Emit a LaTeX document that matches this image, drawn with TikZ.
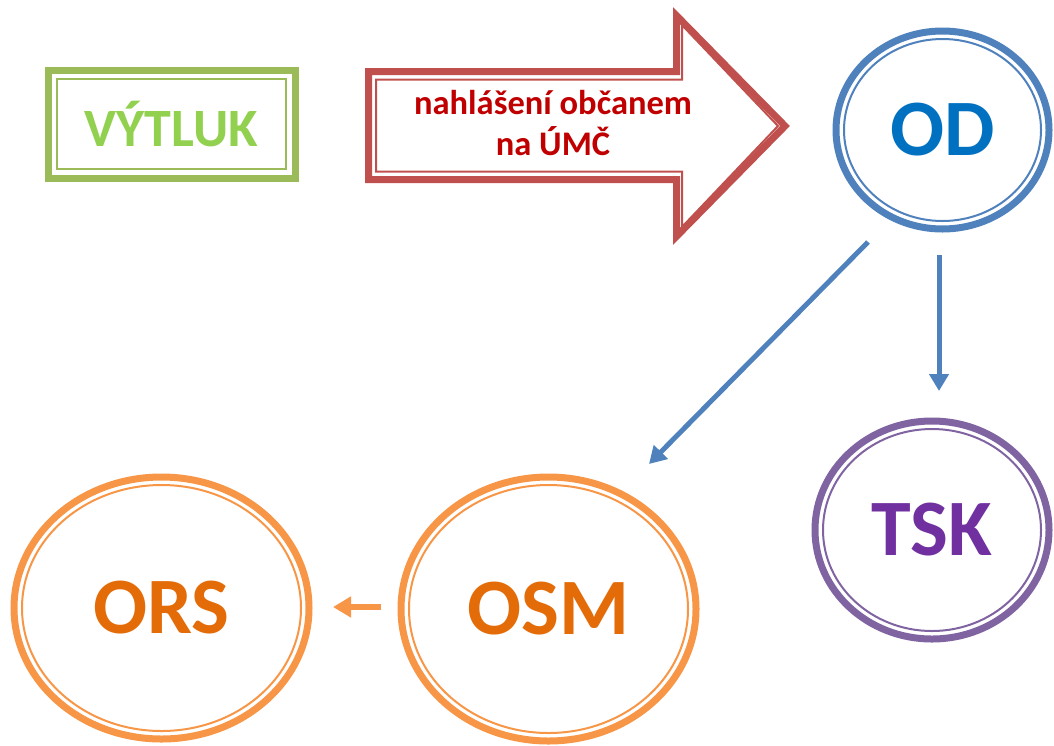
\documentclass[tikz,border=0pt]{standalone}
\usepackage{fontspec}
\setmainfont{Carlito}
\usepackage{tikz}
\usetikzlibrary{shapes,arrows.meta,calc}

\definecolor{vgreen}{HTML}{9BBB59}
\definecolor{vgreentext}{HTML}{92D050}
\definecolor{vred}{HTML}{C0504D}
\definecolor{vredtext}{HTML}{C00000}
\definecolor{vblue}{HTML}{4F81BD}
\definecolor{vbluetext}{HTML}{0070C0}
\definecolor{vpurple}{HTML}{8064A2}
\definecolor{vpurpletext}{HTML}{7030A0}
\definecolor{vorange}{HTML}{F79646}
\definecolor{vorangetext}{HTML}{E36C09}

\begin{document}
\begin{tikzpicture}[x=1pt,y=-1pt,
    ring/.style={ellipse,draw=#1,line width=7pt,inner sep=0pt,outer sep=0pt},
    bigtext/.style={font=\bfseries\fontsize{80}{90}\selectfont},
    flow/.style={draw=vblue,line width=5pt,-{Triangle[length=17pt,width=19pt]}}]
    \useasboundingbox (0,0) rectangle (1054,745);

    % VYTLUK box
    \node[draw=vgreen,line width=7pt,minimum width=247pt,minimum height=108pt,inner sep=0pt,outer sep=0pt,
          text=vgreentext,font=\bfseries\fontsize{54}{60}\selectfont] (vytluk) at (171.5,124) {VÝTLUK};
    \draw[vgreen,line width=2pt] ($(vytluk.north west)+(9,9)$) rectangle ($(vytluk.south east)+(-9,-9)$);

    % big red arrow
    \draw[vred,line width=7pt,line join=miter] (368.5,71.5) -- (676.5,71.5) -- (676.5,15.6) -- (785,126)
        -- (676.5,236.4) -- (676.5,179.5) -- (368.5,179.5) -- cycle;
    \draw[vred,line width=2pt] (376,79.5) -- (682,79.5) -- (682,25) -- (778,126)
        -- (682,227) -- (682,171.5) -- (376,171.5) -- cycle;
    \node[text=vredtext,font=\bfseries\fontsize{34.5}{41}\selectfont,align=center] (report) at (553,123)
        {nahlášení občanem\\na ÚMČ};

    % rings
    \node[ring=vblue,minimum width=213pt,minimum height=198pt,text=vbluetext,bigtext] (od) at (942.5,130) {OD};
    \draw[vblue,line width=2pt] (od.center) ellipse [x radius=98.5pt,y radius=91pt];

    \node[ring=vpurple,minimum width=234pt,minimum height=218pt,text=vpurpletext,bigtext] (tsk) at (932,530) {TSK};
    \draw[vpurple,line width=2pt] (tsk.center) ellipse [x radius=109pt,y radius=101pt];

    \node[ring=vorange,minimum width=295pt,minimum height=264pt,text=vorangetext,bigtext] (osm) at (548.5,609) {OSM};
    \draw[vorange,line width=2pt] (osm.center) ellipse [x radius=139.5pt,y radius=124pt];

    \node[ring=vorange,minimum width=295pt,minimum height=262pt,text=vorangetext,bigtext] (ors) at (161.5,608) {ORS};
    \draw[vorange,line width=2pt] (ors.center) ellipse [x radius=139.5pt,y radius=123pt];

    % connectors
    \draw[flow] ($(od.center)+(-74.5,112)$) -- ($(osm.center)+(100.5,-145)$);
    \draw[flow] ($(od.center)+(-3.5,125)$) -- ($(tsk.center)+(7,-139)$);
    \draw[draw=vorange,line width=6pt,-{Triangle[length=18pt,width=20pt]}]
        ($(osm.center)+(-167.5,-2)$) -- ($(ors.center)+(171.5,-1)$);
\end{tikzpicture}
\end{document}
